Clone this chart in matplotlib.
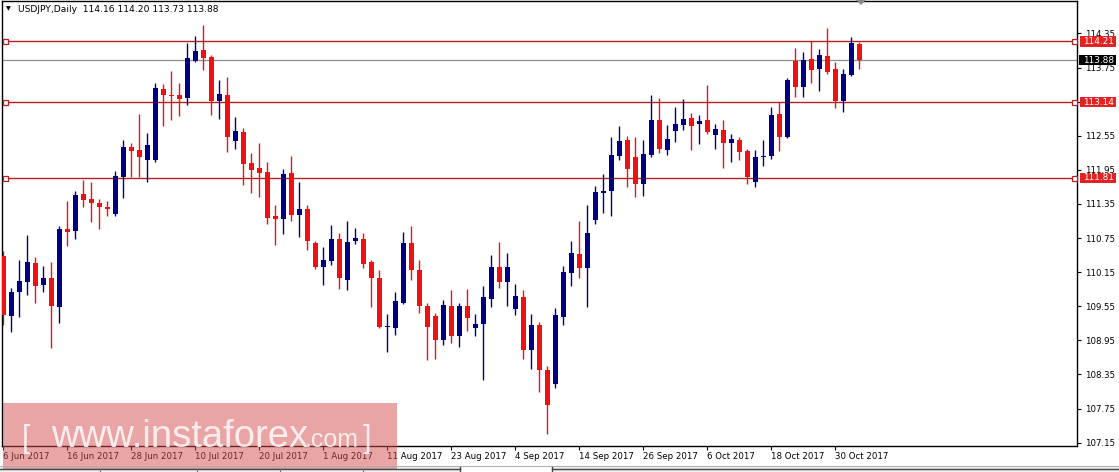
import numpy as np
import matplotlib
matplotlib.use("Agg")
import matplotlib.pyplot as plt
import matplotlib.transforms as mtransforms
from matplotlib.patches import Rectangle, Polygon

plt.rcParams['font.family'] = ['DejaVu Sans']

# ---------------- data ----------------
symbol_title = "USDJPY,Daily  114.16 114.20 113.73 113.88"

opens = [110.44, 109.38, 109.81, 109.98, 110.31, 109.92, 110.05, 109.54, 110.91, 110.88,
         111.53, 111.44, 111.37, 111.30, 111.18, 111.83, 112.35, 112.30, 112.12, 112.12,
         113.37, 113.27, 113.27, 113.21, 113.87, 114.06, 113.93, 113.16, 113.27, 112.46,
         112.62, 112.07, 111.98, 111.91, 111.14, 111.09, 111.90, 111.16, 111.26, 110.66,
         110.24, 110.35, 110.74, 110.02, 110.69, 110.73, 110.33, 110.05, 109.18, 109.16,
         109.61, 110.66, 110.19, 109.56, 109.38, 108.96, 109.56, 109.02, 109.56, 109.17,
         109.24, 109.68, 110.24, 109.98, 109.51, 109.72, 108.78, 109.22, 108.43, 108.18,
         109.37, 110.14, 110.47, 110.23, 111.07, 111.55, 111.57, 112.20, 112.48, 112.18,
         111.70, 112.21, 112.83, 112.30, 112.63, 112.74, 112.87, 112.75, 112.83, 112.56,
         112.66, 112.42, 112.48, 112.28, 111.74, 112.17, 112.20, 112.93, 112.52, 113.87,
         113.41, 113.90, 113.73, 113.95, 113.73, 113.16, 113.62, 114.16]
highs = [110.52, 109.88, 110.37, 110.80, 110.41, 110.26, 110.33, 110.96, 111.40, 111.58,
         111.77, 111.73, 111.44, 111.41, 111.93, 112.48, 112.42, 112.93, 112.60, 113.48,
         113.46, 113.69, 113.48, 114.19, 114.31, 114.50, 113.97, 113.53, 113.58, 112.88,
         112.69, 112.24, 112.42, 112.08, 111.33, 111.97, 112.19, 111.73, 111.33, 110.70,
         110.59, 110.98, 110.84, 111.05, 110.93, 110.84, 110.36, 110.19, 109.41, 109.81,
         110.86, 110.96, 110.36, 109.60, 109.43, 109.66, 109.84, 109.61, 109.86, 109.41,
         109.91, 110.45, 110.68, 110.49, 109.94, 109.84, 109.41, 109.28, 108.50, 109.52,
         110.26, 110.70, 111.05, 111.33, 111.67, 111.88, 112.53, 112.72, 112.55, 112.53,
         112.48, 113.27, 113.21, 112.74, 113.06, 113.20, 112.95, 112.92, 113.44, 112.76,
         112.83, 112.59, 112.53, 112.32, 112.30, 112.48, 113.06, 113.15, 113.57, 114.09,
         114.02, 114.22, 114.08, 114.44, 113.85, 113.73, 114.29, 114.20]
lows = [109.22, 109.10, 109.36, 109.74, 109.61, 109.81, 108.81, 109.26, 110.61, 110.73,
        111.29, 111.03, 110.91, 111.13, 111.14, 111.45, 111.83, 111.83, 111.73, 112.09,
        112.72, 112.82, 112.89, 113.09, 113.85, 113.71, 112.92, 112.85, 112.27, 112.31,
        111.69, 111.55, 111.48, 111.00, 110.62, 110.82, 111.05, 110.77, 110.54, 110.21,
        109.93, 110.28, 109.86, 109.84, 110.65, 110.23, 109.54, 109.16, 108.74, 109.05,
        109.59, 110.01, 109.44, 108.61, 108.62, 108.87, 108.91, 108.84, 109.12, 109.03,
        108.25, 109.54, 109.88, 109.56, 109.40, 108.62, 108.45, 108.05, 107.30, 108.11,
        109.22, 109.91, 110.05, 109.54, 110.99, 111.20, 111.13, 112.12, 111.65, 111.48,
        111.49, 112.18, 112.25, 112.21, 112.44, 112.65, 112.30, 112.41, 112.59, 112.32,
        111.99, 112.08, 112.12, 111.70, 111.64, 112.02, 112.14, 112.29, 112.51, 113.24,
        113.24, 113.47, 113.33, 113.63, 113.03, 112.96, 113.60, 113.73]
closes = [109.40, 109.81, 110.00, 110.33, 109.91, 110.05, 109.56, 110.91, 110.85, 111.51,
          111.42, 111.36, 111.30, 111.26, 111.84, 112.35, 112.29, 112.17, 112.38, 113.39,
          113.27, 113.25, 113.20, 113.92, 114.04, 113.92, 113.16, 113.28, 112.53, 112.63,
          112.05, 111.95, 111.90, 111.11, 111.09, 111.88, 111.16, 111.26, 110.69, 110.24,
          110.36, 110.73, 110.04, 110.68, 110.75, 110.30, 110.05, 109.19, 109.20, 109.64,
          110.66, 110.18, 109.56, 109.19, 108.96, 109.57, 109.03, 109.56, 109.35, 109.24,
          109.72, 110.24, 109.97, 110.25, 109.73, 108.78, 109.22, 108.43, 107.81, 109.40,
          110.15, 110.49, 110.23, 110.84, 111.56, 111.58, 112.21, 112.46, 111.97, 111.70,
          112.23, 112.83, 112.32, 112.49, 112.76, 112.85, 112.72, 112.81, 112.61, 112.67,
          112.42, 112.49, 112.27, 111.83, 112.18, 112.19, 112.92, 112.52, 113.53, 113.41,
          113.88, 113.71, 113.97, 113.68, 113.16, 113.64, 114.18, 113.88]

date_labels = ["6 Jun 2017", "16 Jun 2017", "28 Jun 2017", "10 Jul 2017", "20 Jul 2017",
               "1 Aug 2017", "11 Aug 2017", "23 Aug 2017", "4 Sep 2017", "14 Sep 2017",
               "26 Sep 2017", "6 Oct 2017", "18 Oct 2017", "30 Oct 2017"]
date_label_bars = [0, 8, 16, 24, 32, 40, 48, 56, 64, 72, 80, 88, 96, 104]

price_ticks = [107.15, 107.75, 108.35, 108.95, 109.55, 110.15, 110.75,
               111.35, 111.95, 112.55, 113.15, 113.75, 114.35]
levels = [114.21, 113.14, 111.81]
current_price = 113.88

# ---------------- styles ----------------
BLUE = '#000080'
RED = '#EE1111'
LINE_RED = '#B52020'
LABEL_RED = '#E52222'

W, H = 1119, 472
fig = plt.figure(figsize=(W / 100, H / 100), dpi=100)
fig.patch.set_facecolor('white')

ax = fig.add_axes([2 / W, 26 / H, 1075 / W, 445.5 / H])
ax.set_facecolor('white')

o = np.array(opens); h = np.array(highs); l = np.array(lows); c = np.array(closes)
xs = np.arange(len(o))
up = c >= o
cols = np.where(up, BLUE, RED)

ax.vlines(xs, l, h, colors=cols, lw=1.0, zorder=2)
body_bottom = np.minimum(o, c)
body_h = np.maximum(np.abs(c - o), 0.02)
ax.bar(xs, body_h, bottom=body_bottom, width=0.62, color=cols, linewidth=0, zorder=3)

ax.set_xlim(-0.1875, 134.19)
ax.set_ylim(107.092, 114.930)

# horizontal levels
for lv in levels:
    ax.axhline(lv, color=LINE_RED, lw=1.0, zorder=1.5)
ax.axhline(current_price, color='#8E8E8E', lw=0.9, zorder=1.4)

blend = mtransforms.blended_transform_factory(ax.transAxes, ax.transData)
for lv in levels:
    ax.plot([0.0028, 0.9972], [lv, lv], linestyle='none', marker='s', ms=3.6,
            mfc='white', mec=LINE_RED, mew=0.9, transform=blend, clip_on=False, zorder=6)

# spines
for s in ax.spines.values():
    s.set_color('black')
    s.set_linewidth(1.0)

# ticks
ax.yaxis.tick_right()
ax.set_yticks(price_ticks)
ax.set_yticklabels([f"{v:.2f}" for v in price_ticks])
ax.tick_params(axis='y', direction='out', length=3, width=0.8, labelsize=6.2,
               pad=3, colors='black')
ax.set_xticks(date_label_bars)
ax.set_xticklabels(date_labels)
ax.tick_params(axis='x', direction='out', length=3, width=0.8, labelsize=6.2,
               pad=1.5, colors='black')
for lbl in ax.get_xticklabels():
    lbl.set_ha('left')

# price label boxes on right axis
px_y = (114.930 - 107.092) / 445.5  # data units per pixel
box_w = 36 / 1075
for lv in levels:
    ax.add_patch(Rectangle((1.0025, lv - 5.2 * px_y), box_w, 10.4 * px_y, transform=blend,
                           fc=LABEL_RED, ec='none', clip_on=False, zorder=7))
    ax.text(1.0055, lv, f"{lv:.2f}", transform=blend, color='white', fontsize=6.4,
            va='center', ha='left', clip_on=False, zorder=8)
ax.add_patch(Rectangle((1.0015, current_price - 5.2 * px_y), box_w + 0.001, 10.4 * px_y,
                       transform=blend, fc='black', ec='none', clip_on=False, zorder=7))
ax.text(1.0055, current_price, f"{current_price:.2f}", transform=blend, color='white',
        fontsize=6.4, va='center', ha='left', clip_on=False, zorder=8)

# header
ax.text(0.0035, 0.982, "\u25BC", transform=ax.transAxes, fontsize=4.5, va='center',
        ha='left', color='black', zorder=8)
ax.text(0.0150, 0.980, symbol_title, transform=ax.transAxes, fontsize=6.6, va='center',
        ha='left', color='black', zorder=8)

# ---------------- overlay (watermark, tab bar) ----------------
ov = fig.add_axes([0, 0, 1, 1], zorder=10)
ov.set_xlim(0, W)
ov.set_ylim(H, 0)
ov.axis('off')
ov.patch.set_alpha(0)

# chart-shift marker
ov.add_patch(Polygon([[856, 0], [866, 0], [861, 5]], closed=True, fc='#8A8A8A', ec='none'))

# tab bar
ov.add_patch(Rectangle((0, 466.5), W, 6, fc='#EFEFEF', ec='none'))
ov.plot([0, 460], [468.5, 468.5], color='#444444', lw=1)
ov.plot([552, W], [468.5, 468.5], color='#444444', lw=1)
ov.plot([0, W], [466, 466], color='#B0B0B0', lw=0.8)
ov.add_patch(Rectangle((460, 466.5), 92, 6, fc='white', ec='none'))
for sx in [100, 197, 280, 363]:
    ov.plot([sx, sx], [468.5, 472], color='#707070', lw=0.8)
for sx in [460, 552]:
    ov.plot([sx, sx], [466.5, 472], color='#444444', lw=1)

# watermark
ov.add_patch(Rectangle((3, 403), 394, 66, fc='#D44D4D', alpha=0.5, ec='none'))
wm_col = (1, 0.97, 0.97, 0.88)
ov.text(22, 447, "[", fontsize=22, family='Liberation Sans', color=wm_col,
        va='baseline', ha='left')
ov.text(51, 447, "www.instaforex", fontsize=27.5, family='Liberation Sans', color=wm_col,
        va='baseline', ha='left')
ov.text(305, 447, ".com", fontsize=18, family='Liberation Sans', color=wm_col,
        va='baseline', ha='left')
ov.text(363, 447, "]", fontsize=22, family='Liberation Sans', color=wm_col,
        va='baseline', ha='left')

fig.savefig('out.png', dpi=100)
